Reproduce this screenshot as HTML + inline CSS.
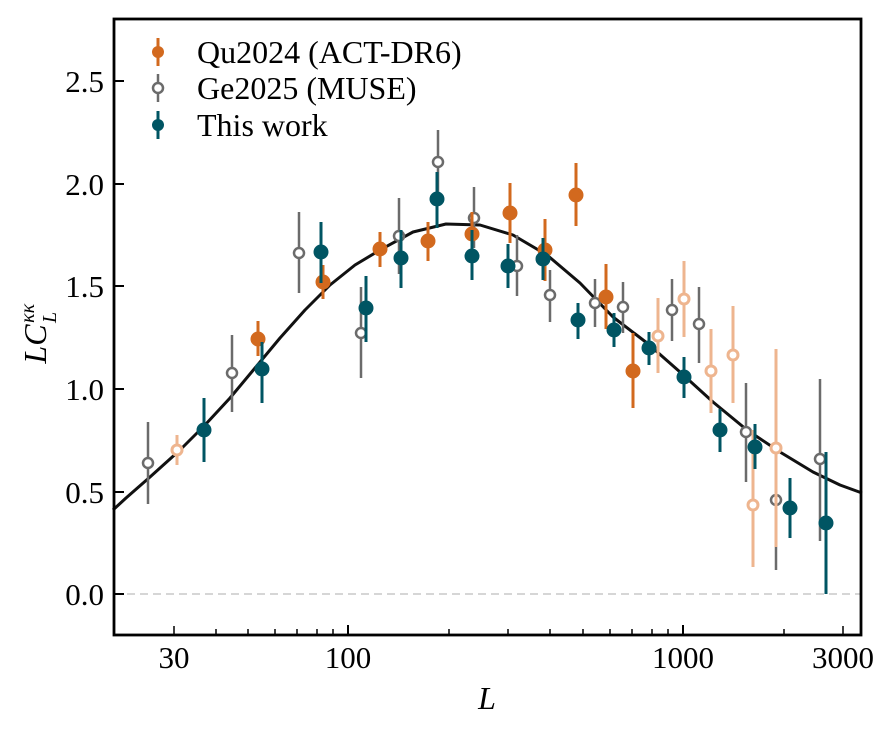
<!DOCTYPE html>
<html><head><meta charset="utf-8"><style>body{margin:0;background:#fff}</style></head><body>
<svg width="895" height="736" xmlns="http://www.w3.org/2000/svg" font-family="Liberation Serif, DejaVu Serif, serif">
<rect width="895" height="736" fill="#fff"/>
<line x1="114" y1="594" x2="861" y2="594" stroke="#c8c8c8" stroke-width="1.5" stroke-dasharray="8,5"/>
<polyline fill="none" stroke="#111" stroke-width="3" stroke-linejoin="round" points="113,510 126,498 150,477 180,450 205,425 230,398 255,368 280,338 305,310 330,285 355,265 380,250 413,232 446,224 480,225 513,235 547,255 580,283 613,317 647,343 680,372 713,402 747,430 780,452 813,472 840,485 862,493"/>
<g stroke="#6b6b6b" stroke-width="2.5" fill="none">
<line x1="148" y1="422" x2="148" y2="504"/><circle cx="148" cy="463" r="5" fill="#fff"/>
<line x1="232" y1="335" x2="232" y2="412"/><circle cx="232" cy="373" r="5" fill="#fff"/>
<line x1="299" y1="212" x2="299" y2="293"/><circle cx="299" cy="253" r="5" fill="#fff"/>
<line x1="361" y1="287" x2="361" y2="378"/><circle cx="361" cy="333" r="5" fill="#fff"/>
<line x1="399" y1="198" x2="399" y2="274"/><circle cx="399" cy="236" r="5" fill="#fff"/>
<line x1="438" y1="130" x2="438" y2="193"/><circle cx="438" cy="162" r="5" fill="#fff"/>
<line x1="474" y1="187" x2="474" y2="248"/><circle cx="474" cy="218" r="5" fill="#fff"/>
<line x1="517" y1="235" x2="517" y2="296"/><circle cx="517" cy="266" r="5" fill="#fff"/>
<line x1="550" y1="270" x2="550" y2="322"/><circle cx="550" cy="295" r="5" fill="#fff"/>
<line x1="595" y1="279" x2="595" y2="327"/><circle cx="595" cy="303" r="5" fill="#fff"/>
<line x1="623" y1="282" x2="623" y2="333"/><circle cx="623" cy="307" r="5" fill="#fff"/>
<line x1="672" y1="279" x2="672" y2="341"/><circle cx="672" cy="310" r="5" fill="#fff"/>
<line x1="699" y1="287" x2="699" y2="363"/><circle cx="699" cy="324" r="5" fill="#fff"/>
<line x1="746" y1="383" x2="746" y2="482"/><circle cx="746" cy="432" r="5" fill="#fff"/>
<line x1="776" y1="432" x2="776" y2="570"/><circle cx="776" cy="500" r="5" fill="#fff"/>
<line x1="820" y1="379" x2="820" y2="541"/><circle cx="820" cy="459" r="5" fill="#fff"/>
</g>
<g stroke="#eeb58f" stroke-width="3" fill="none">
<line x1="177" y1="435" x2="177" y2="465"/><circle cx="177" cy="450" r="5" fill="#fff"/>
<line x1="658" y1="298" x2="658" y2="373"/><circle cx="658" cy="336" r="5" fill="#fff"/>
<line x1="684" y1="261" x2="684" y2="337"/><circle cx="684" cy="299" r="5" fill="#fff"/>
<line x1="711" y1="329" x2="711" y2="413"/><circle cx="711" cy="371" r="5" fill="#fff"/>
<line x1="733" y1="306" x2="733" y2="403"/><circle cx="733" cy="355" r="5" fill="#fff"/>
<line x1="753" y1="430" x2="753" y2="567"/><circle cx="753" cy="505" r="5" fill="#fff"/>
<line x1="776" y1="349" x2="776" y2="547"/><circle cx="776" cy="448" r="5" fill="#fff"/>
</g>
<g stroke="#d2691e" stroke-width="3" fill="#d2691e">
<line x1="258" y1="321" x2="258" y2="356"/><circle cx="258" cy="339" r="6"/>
<line x1="323" y1="265" x2="323" y2="299"/><circle cx="323" cy="282" r="6"/>
<line x1="380" y1="232" x2="380" y2="267"/><circle cx="380" cy="249" r="6"/>
<line x1="428" y1="222" x2="428" y2="261"/><circle cx="428" cy="241" r="6"/>
<line x1="472" y1="212" x2="472" y2="255"/><circle cx="472" cy="234" r="6"/>
<line x1="510" y1="183" x2="510" y2="243"/><circle cx="510" cy="213" r="6"/>
<line x1="545" y1="219" x2="545" y2="281"/><circle cx="545" cy="250" r="6"/>
<line x1="576" y1="163" x2="576" y2="226"/><circle cx="576" cy="195" r="6"/>
<line x1="606" y1="264" x2="606" y2="329"/><circle cx="606" cy="297" r="6"/>
<line x1="633" y1="333" x2="633" y2="408"/><circle cx="633" cy="371" r="6"/>
</g>
<g stroke="#005563" stroke-width="3" fill="#005563">
<line x1="204" y1="398" x2="204" y2="462"/><circle cx="204" cy="430" r="6"/>
<line x1="262" y1="342" x2="262" y2="403"/><circle cx="262" cy="369" r="6"/>
<line x1="321" y1="222" x2="321" y2="283"/><circle cx="321" cy="252" r="6"/>
<line x1="366" y1="276" x2="366" y2="342"/><circle cx="366" cy="308" r="6"/>
<line x1="401" y1="230" x2="401" y2="288"/><circle cx="401" cy="258" r="6"/>
<line x1="437" y1="172" x2="437" y2="228"/><circle cx="437" cy="199" r="6"/>
<line x1="472" y1="230" x2="472" y2="280"/><circle cx="472" cy="256" r="6"/>
<line x1="508" y1="244" x2="508" y2="288"/><circle cx="508" cy="266" r="6"/>
<line x1="543" y1="238" x2="543" y2="280"/><circle cx="543" cy="259" r="6"/>
<line x1="578" y1="303" x2="578" y2="339"/><circle cx="578" cy="320" r="6"/>
<line x1="614" y1="313" x2="614" y2="347"/><circle cx="614" cy="330" r="6"/>
<line x1="649" y1="332" x2="649" y2="365"/><circle cx="649" cy="348" r="6"/>
<line x1="684" y1="357" x2="684" y2="398"/><circle cx="684" cy="377" r="6"/>
<line x1="720" y1="409" x2="720" y2="452"/><circle cx="720" cy="430" r="6"/>
<line x1="755" y1="424" x2="755" y2="469"/><circle cx="755" cy="447" r="6"/>
<line x1="790" y1="478" x2="790" y2="538"/><circle cx="790" cy="508" r="6"/>
<line x1="826" y1="452" x2="826" y2="594"/><circle cx="826" cy="523" r="6"/>
</g>
<!-- legend -->
<line x1="158" y1="38" x2="158" y2="66" stroke="#d2691e" stroke-width="3"/><circle cx="158" cy="52" r="6" fill="#d2691e"/>
<line x1="158" y1="74" x2="158" y2="102" stroke="#6b6b6b" stroke-width="2.5"/><circle cx="158" cy="88" r="5" fill="#fff" stroke="#6b6b6b" stroke-width="2.5"/>
<line x1="158" y1="111" x2="158" y2="139" stroke="#005563" stroke-width="3"/><circle cx="158" cy="125" r="6" fill="#005563"/>
<g font-size="32" fill="#000">
<text x="197" y="63">Qu2024 (ACT-DR6)</text>
<text x="197" y="99">Ge2025 (MUSE)</text>
<text x="197" y="136">This work</text>
</g>
<!-- frame -->
<rect x="114" y="19" width="747" height="616" fill="none" stroke="#000" stroke-width="2.8"/>
<g stroke="#000" stroke-width="2">
<line x1="114" y1="594" x2="124" y2="594"/><line x1="114" y1="492" x2="124" y2="492"/><line x1="114" y1="389" x2="124" y2="389"/><line x1="114" y1="286" x2="124" y2="286"/><line x1="114" y1="184" x2="124" y2="184"/><line x1="114" y1="81" x2="124" y2="81"/>
<line x1="348" y1="635" x2="348" y2="625"/><line x1="683" y1="635" x2="683" y2="625"/>
</g>
<g stroke="#000" stroke-width="1.5">
<line x1="174" y1="635" x2="174" y2="626"/><line x1="216" y1="635" x2="216" y2="629"/><line x1="248" y1="635" x2="248" y2="629"/><line x1="275" y1="635" x2="275" y2="629"/><line x1="297" y1="635" x2="297" y2="629"/><line x1="317" y1="635" x2="317" y2="629"/><line x1="333" y1="635" x2="333" y2="629"/>
<line x1="449" y1="635" x2="449" y2="629"/><line x1="508" y1="635" x2="508" y2="629"/><line x1="550" y1="635" x2="550" y2="629"/><line x1="583" y1="635" x2="583" y2="629"/><line x1="610" y1="635" x2="610" y2="629"/><line x1="632" y1="635" x2="632" y2="629"/><line x1="652" y1="635" x2="652" y2="629"/><line x1="668" y1="635" x2="668" y2="629"/>
<line x1="784" y1="635" x2="784" y2="629"/><line x1="843" y1="635" x2="843" y2="626"/>
</g>
<g font-size="31" fill="#000" text-anchor="end">
<text x="104" y="605">0.0</text><text x="104" y="503">0.5</text><text x="104" y="400">1.0</text><text x="104" y="297">1.5</text><text x="104" y="195">2.0</text><text x="104" y="92">2.5</text>
</g>
<g font-size="31" fill="#000" text-anchor="middle">
<text x="174" y="668">30</text><text x="348" y="668">100</text><text x="683" y="668">1000</text><text x="843" y="668">3000</text>
</g>
<text x="487" y="709" font-size="32" font-style="italic" text-anchor="middle">L</text>
<g transform="translate(46,330) rotate(-90)" font-size="32">
<text x="-14" y="0" text-anchor="middle"><tspan font-style="italic">LC</tspan></text>
<text x="7" y="-12" font-size="20" font-style="italic">κκ</text>
<text x="7" y="10" font-size="20" font-style="italic">L</text>
</g>
</svg>
</body></html>
